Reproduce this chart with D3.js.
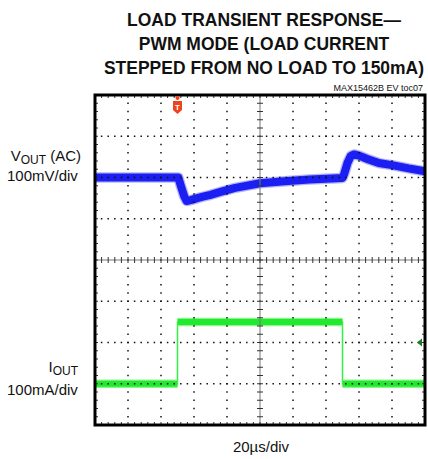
<!DOCTYPE html>
<html>
<head>
<meta charset="utf-8" />
<script src="https://d3js.org/d3.v7.min.js"></script>
<style>
  body { margin: 0; background: #fff; }
  text { font-family: "Liberation Sans", Arial, sans-serif; fill: #111; }
  .title { font-weight: bold; font-size: 19px; }
</style>
</head>
<body>
<div id="chart"></div>
<script>
  // time axis in µs (20µs/div, 10 divisions)
  var voutTime = [0, 50.5, 52, 54, 55.5, 58, 62, 66, 70, 76, 85, 100, 115, 130, 150, 151, 153, 155, 157, 160, 165, 172, 180, 190, 200];
  // VOUT (AC) deviation in mV (100mV/div)
  var voutMv = [0, 0, -20, -45, -57, -55, -50, -46, -42, -35, -25, -14, -9, -5, -1, 8, 35, 52, 56, 53, 45, 35, 30, 22, 15];
  // IOUT in mA (100mA/div)
  var ioutTime = [0, 50, 50, 150, 150, 200];
  var ioutMa = [0, 0, 150, 150, 0, 0];

  var titleLines = ["LOAD TRANSIENT RESPONSE\u2014", "PWM MODE (LOAD CURRENT", "STEPPED FROM NO LOAD TO 150mA)"];

  (function () {
    var W = 428, H = 459;
    var pl = 95, pr = 425, pt = 95, pb = 425;

    var svg = d3.select("#chart").append("svg").attr("width", W).attr("height", H);

    var x = d3.scaleLinear().domain([0, 200]).range([pl, pr]);
    var ydiv = d3.scaleLinear().domain([-4, 4]).range([pb, pt]);
    // channel 1 sits 2 div above centre, channel 2 sits 3 div below centre
    var yV = function (mv) { return ydiv(2 + mv / 100); };
    var yI = function (ma) { return ydiv(-3 + ma / 100); };

    // title (condensed look)
    svg.append("g").attr("transform", "translate(264,0) scale(0.92,1)")
      .selectAll(".title").data(titleLines).enter().append("text")
      .attr("class", "title")
      .attr("x", 0).attr("y", (d, i) => 26 + i * 24)
      .attr("text-anchor", "middle")
      .text(d => d);

    svg.append("text").attr("x", 423).attr("y", 91).attr("text-anchor", "end")
      .style("font-size", "9px").text("MAX15462B EV toc07");

    // traces
    var g = svg.append("g");
    var vLine = d3.line().x((d, i) => x(voutTime[i])).y(d => yV(d));
    g.append("path").datum(voutMv).attr("d", vLine)
      .attr("fill", "none").attr("stroke", "#5a5cff").attr("stroke-width", 10.5)
      .attr("stroke-linejoin", "round").attr("opacity", 0.45);
    g.append("path").datum(voutMv).attr("d", vLine)
      .attr("fill", "none").attr("stroke", "#1c1ff2").attr("stroke-width", 8)
      .attr("stroke-linejoin", "round");

    var iLine = d3.line().x((d, i) => x(ioutTime[i])).y(d => yI(d));
    g.append("path").datum(ioutMa).attr("d", iLine)
      .attr("fill", "none").attr("stroke", "#33ee44").attr("stroke-width", 1.5);
    // flat parts of the current trace are thick (noise band)
    for (var i = 0; i < ioutMa.length - 1; i++) {
      if (ioutMa[i] === ioutMa[i + 1] && ioutTime[i] !== ioutTime[i + 1]) {
        g.append("line")
          .attr("x1", x(ioutTime[i])).attr("x2", x(ioutTime[i + 1]))
          .attr("y1", yI(ioutMa[i])).attr("y2", yI(ioutMa[i]))
          .attr("stroke", "#8af78c").attr("stroke-width", 8.5);
        g.append("line")
          .attr("x1", x(ioutTime[i])).attr("x2", x(ioutTime[i + 1]))
          .attr("y1", yI(ioutMa[i])).attr("y2", yI(ioutMa[i]))
          .attr("stroke", "#22e830").attr("stroke-width", 6);
      }
    }

    // graticule dots
    var grid = svg.append("g");
    var dotsX = d3.range(0, 10.01, 0.2), dotsY = d3.range(-4, 4.01, 0.2);
    d3.range(-3, 4).forEach(function (k) {
      if (k === 0) return;
      dotsX.forEach(function (t) {
        grid.append("rect").attr("x", x(t * 20) - 0.75).attr("y", ydiv(k) - 0.75)
          .attr("width", 1.5).attr("height", 1.5).attr("fill", "#111");
      });
    });
    d3.range(1, 10).forEach(function (k) {
      if (k === 5) return;
      dotsY.forEach(function (v) {
        grid.append("rect").attr("x", x(k * 20) - 0.75).attr("y", ydiv(v) - 0.75)
          .attr("width", 1.5).attr("height", 1.5).attr("fill", "#111");
      });
    });

    // centre axes with minor ticks
    grid.append("line").attr("x1", pl).attr("x2", pr).attr("y1", ydiv(0)).attr("y2", ydiv(0))
      .attr("stroke", "#777").attr("stroke-width", 1);
    grid.append("line").attr("x1", x(100)).attr("x2", x(100)).attr("y1", pt).attr("y2", pb)
      .attr("stroke", "#777").attr("stroke-width", 1);
    dotsX.forEach(function (t) {
      grid.append("line").attr("x1", x(t * 20)).attr("x2", x(t * 20))
        .attr("y1", ydiv(0) - 3).attr("y2", ydiv(0) + 3).attr("stroke", "#333");
      grid.append("line").attr("x1", x(t * 20)).attr("x2", x(t * 20))
        .attr("y1", pt).attr("y2", pt + 3).attr("stroke", "#333");
      grid.append("line").attr("x1", x(t * 20)).attr("x2", x(t * 20))
        .attr("y1", pb - 3).attr("y2", pb).attr("stroke", "#333");
    });
    dotsY.forEach(function (v) {
      grid.append("line").attr("x1", x(100) - 3).attr("x2", x(100) + 3)
        .attr("y1", ydiv(v)).attr("y2", ydiv(v)).attr("stroke", "#333");
      grid.append("line").attr("x1", pl).attr("x2", pl + 3)
        .attr("y1", ydiv(v)).attr("y2", ydiv(v)).attr("stroke", "#333");
      grid.append("line").attr("x1", pr - 3).attr("x2", pr)
        .attr("y1", ydiv(v)).attr("y2", ydiv(v)).attr("stroke", "#333");
    });

    // frame
    svg.append("rect").attr("x", pl).attr("y", pt).attr("width", pr - pl).attr("height", pb - pt)
      .attr("fill", "none").attr("stroke", "#000").attr("stroke-width", 3);

    // trigger marker
    var tx = x(50);
    svg.append("path")
      .attr("d", "M" + (tx - 4.5) + ",101 h9 v9 l-4.5,4 l-4.5,-4 z")
      .attr("fill", "#f0431c");
    svg.append("circle").attr("cx", tx).attr("cy", 98).attr("r", 2).attr("fill", "#f0431c");
    svg.append("text").attr("x", tx).attr("y", 110).attr("text-anchor", "middle")
      .style("font-size", "8px").style("font-weight", "bold").style("fill", "#fff").text("T");

    // channel 2 level marker
    svg.append("path")
      .attr("d", "M417," + ydiv(-2) + " l5,-4 v8 z").attr("fill", "#1f7a1f");

    // labels
    var v1 = svg.append("text").attr("x", 81).attr("y", 161).attr("text-anchor", "end").style("font-size", "15px");
    v1.append("tspan").text("V");
    v1.append("tspan").attr("dy", 3).style("font-size", "12px").text("OUT");
    v1.append("tspan").attr("dy", -3).text(" (AC)");
    svg.append("text").attr("x", 7).attr("y", 181).style("font-size", "15px").text("100mV/div");

    var i1 = svg.append("text").attr("x", 78).attr("y", 372).attr("text-anchor", "end").style("font-size", "15px");
    i1.append("tspan").text("I");
    i1.append("tspan").attr("dy", 3).style("font-size", "12px").text("OUT");
    svg.append("text").attr("x", 7).attr("y", 395).style("font-size", "15px").text("100mA/div");

    svg.append("text").attr("x", 261).attr("y", 452).attr("text-anchor", "middle").style("font-size", "15px").text("20\u00b5s/div");
  })();
</script>
</body>
</html>
